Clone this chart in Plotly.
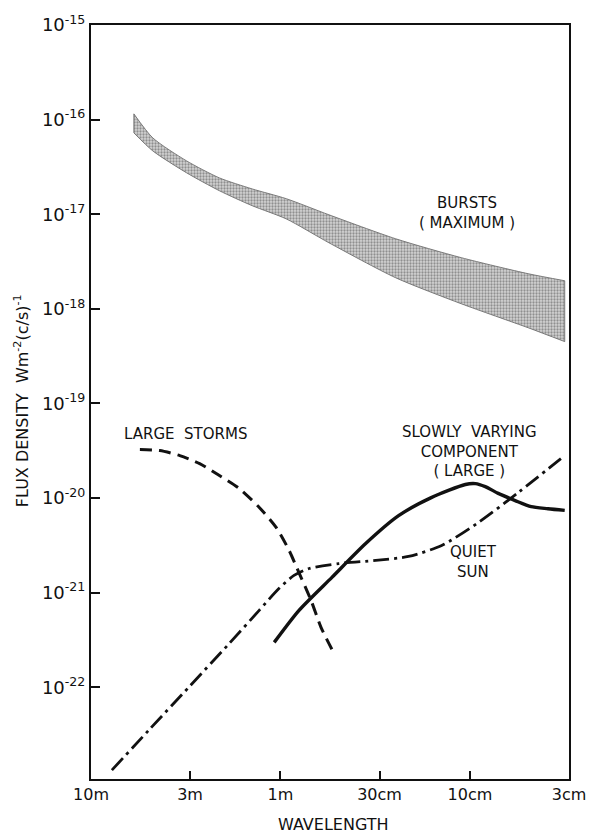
import math
import plotly.graph_objects as go

# Wavelength in metres, flux density in W m^-2 (c/s)^-1

# Bursts (maximum): shaded band between an upper and a lower envelope
burst_wl = [5.94, 4.72, 3.13, 2.10, 1.41, 0.933, 0.555, 0.2466, 0.111, 0.0493, 0.0316]
burst_hi = [1.15e-16, 6.41e-17, 3.66e-17, 2.42e-17, 1.85e-17, 1.46e-17, 9.86e-18, 5.50e-18, 3.47e-18, 2.35e-18, 1.98e-18]
burst_lo = [7.24e-17, 4.67e-17, 2.74e-17, 1.77e-17, 1.23e-17, 8.93e-18, 4.99e-18, 2.13e-18, 1.13e-18, 6.31e-19, 4.50e-19]

# Large storms (dashed)
storm_wl = [5.52, 4.34, 3.40, 2.67, 2.10, 1.65, 1.29, 1.054, 0.900, 0.817, 0.690, 0.611, 0.522]
storm_flux = [3.25e-20, 3.18e-20, 2.81e-20, 2.31e-20, 1.73e-20, 1.26e-20, 7.9e-21, 4.89e-21,
              2.79e-21, 1.80e-21, 8.3e-22, 4.3e-22, 2.28e-22]

# Quiet sun (dash-dot)
quiet_wl = [7.76, 4.90, 3.02, 1.86, 1.295, 1.016, 0.848, 0.706, 0.492, 0.314, 0.211, 0.141,
            0.0903, 0.0557, 0.0331]
quiet_flux = [1.33e-23, 3.60e-23, 1.02e-22, 2.91e-22, 6.5e-22, 1.11e-21, 1.52e-21, 1.80e-21,
              2.03e-21, 2.19e-21, 2.41e-21, 3.15e-21, 5.5e-21, 1.14e-20, 2.61e-20]

# Slowly varying component, large (solid)
svc_wl = [1.079, 0.798, 0.535, 0.355, 0.238, 0.160, 0.1057, 0.0937, 0.0830, 0.0709, 0.0577,
          0.0475, 0.0387, 0.0316]
svc_flux = [2.98e-22, 6.5e-22, 1.45e-21, 3.30e-21, 6.5e-21, 1.01e-20, 1.39e-20, 1.42e-20,
            1.32e-20, 1.12e-20, 9.4e-21, 8.1e-21, 7.7e-21, 7.4e-21]

x_tick_vals = [10, 3, 1, 0.3, 0.1, 0.03]
x_tick_text = ["10m", "3m", "1m", "30cm", "10cm", "3cm"]
y_exponents = [-15, -16, -17, -18, -19, -20, -21, -22]

# Curve labels: (wavelength, flux, text) — flux gives the vertical centre of the block
curve_labels = [
    (0.104, 1.02e-17, "BURSTS<br>( MAXIMUM )"),
    (3.17, 4.8e-20, "LARGE  STORMS"),
    (0.101, 3.1e-20, "SLOWLY  VARYING<br>COMPONENT<br>( LARGE )"),
    (0.0959, 2.1e-21, "QUIET<br>SUN"),
]

FONT = "DejaVu Sans"
INK = "#111111"
BAND_EDGE = "#6e6e6e"

fig = go.Figure()

# Bursts band: lower envelope, then upper envelope filled down to it
fig.add_trace(go.Scatter(
    x=burst_wl, y=burst_lo, mode="lines",
    line=dict(color=BAND_EDGE, width=0.9, shape="spline", smoothing=0.7),
    hoverinfo="skip", showlegend=False,
))
fig.add_trace(go.Scatter(
    x=burst_wl, y=burst_hi, mode="lines",
    fill="tonexty",
    fillcolor="#c0c0c0",
    fillpattern=dict(shape=".", fgcolor="#4a4a4a", bgcolor="#d4d4d4", size=3, solidity=0.45),
    line=dict(color=BAND_EDGE, width=0.9, shape="spline", smoothing=0.7),
    hoverinfo="skip", showlegend=False,
))
# closing edges at both ends of the band
for i in (0, -1):
    fig.add_trace(go.Scatter(
        x=[burst_wl[i], burst_wl[i]], y=[burst_lo[i], burst_hi[i]], mode="lines",
        line=dict(color=BAND_EDGE, width=0.9), hoverinfo="skip", showlegend=False,
    ))

fig.add_trace(go.Scatter(
    x=storm_wl, y=storm_flux, mode="lines",
    line=dict(color=INK, width=3, dash="12px,7px", shape="spline", smoothing=0.7),
    showlegend=False,
))

fig.add_trace(go.Scatter(
    x=quiet_wl, y=quiet_flux, mode="lines",
    line=dict(color=INK, width=2.8, dash="16px,5px,3px,5px", shape="spline", smoothing=0.7),
    showlegend=False,
))

fig.add_trace(go.Scatter(
    x=svc_wl, y=svc_flux, mode="lines",
    line=dict(color=INK, width=3.4, shape="spline", smoothing=0.7),
    showlegend=False,
))

# Annotations on log axes take log10 coordinates
for lx, ly, txt in curve_labels:
    fig.add_annotation(x=math.log10(lx), y=math.log10(ly), text=txt, showarrow=False,
                       xref="x", yref="y", align="center", borderpad=0,
                       font=dict(family=FONT, size=15, color=INK))

fig.add_annotation(x=0.508, y=-0.061, xref="paper", yref="paper", text="WAVELENGTH",
                   xanchor="center", yanchor="middle",
                   showarrow=False, font=dict(family=FONT, size=16, color=INK))
fig.add_annotation(x=-0.145, y=0.502, xref="paper", yref="paper",
                   text="FLUX DENSITY  Wm<sup>-2</sup>(c/s)<sup>-1</sup>",
                   xanchor="center", yanchor="middle",
                   textangle=-90, showarrow=False,
                   font=dict(family=FONT, size=16, color=INK))

fig.update_xaxes(
    type="log", range=[1.0, -1.5229],
    tickvals=x_tick_vals, ticktext=x_tick_text,
    ticks="inside", ticklen=8, tickwidth=1.5, tickcolor=INK,
    showline=True, linecolor=INK, linewidth=2, mirror=True,
    showgrid=False, zeroline=False,
    tickfont=dict(family=FONT, size=16, color=INK),
)
fig.update_yaxes(
    type="log", range=[-22.97, -15.0],
    tickvals=[10.0 ** e for e in y_exponents],
    ticktext=[f"10<sup>{e}</sup>" for e in y_exponents],
    ticks="inside", ticklen=9, tickwidth=1.5, tickcolor=INK,
    showline=True, linecolor=INK, linewidth=2, mirror=True,
    showgrid=False, zeroline=False,
    tickfont=dict(family=FONT, size=18, color=INK),
)

fig.update_layout(
    width=598, height=833,
    margin=dict(l=91, r=27, t=24, b=54),
    paper_bgcolor="white", plot_bgcolor="white",
    showlegend=False,
)

fig.write_html("out.html")
